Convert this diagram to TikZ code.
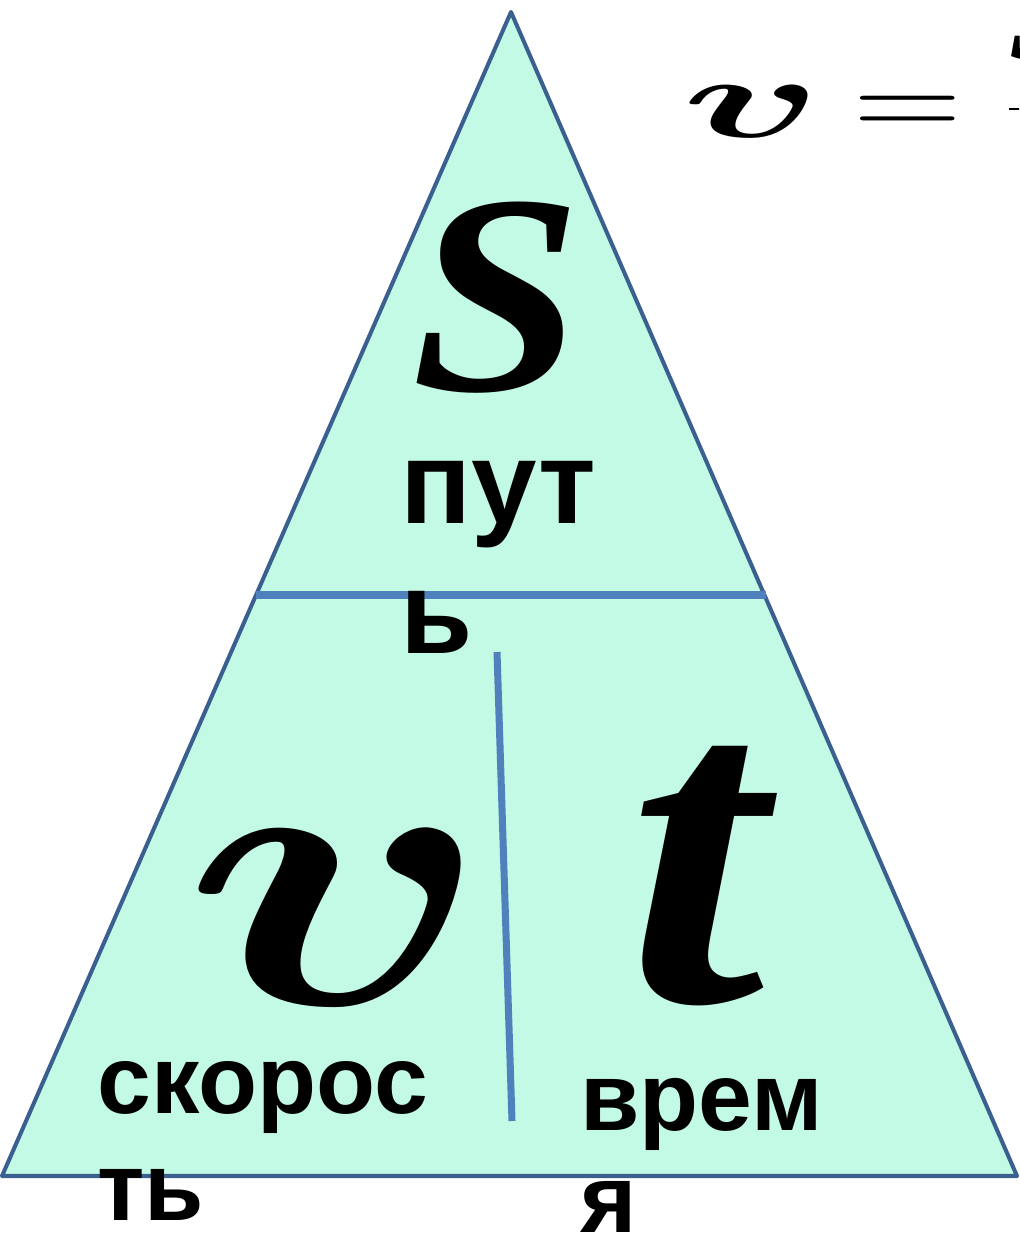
\RequirePackage{fix-cm}
\documentclass[tikz,border=0pt]{standalone}
\usepackage{amsmath}
\usepackage{bm}
\usepackage{fontspec}
\newfontfamily\rusfont{Liberation Sans}
\newfontfamily\letterfont{Liberation Serif}

\definecolor{mint}{HTML}{C2FAE5}
\definecolor{rimblue}{HTML}{3B6090}
\definecolor{splitblue}{HTML}{4F81BD}

\tikzset{
    rim/.style={fill=mint, draw=rimblue, line width=2.3pt, line join=round},
    split/.style={draw=splitblue, line width=4pt},
    bigletter/.style={anchor=base, font=\fontsize{#1}{#1}\selectfont\letterfont\bfseries\itshape},
    caption/.style={anchor=base west, font=\fontsize{#1}{#1}\selectfont\rusfont\bfseries}
}

\begin{document}
\begin{tikzpicture}[x=0.2mm, y=-0.2mm, every node/.style={inner sep=0pt}]

    \useasboundingbox (0,0) rectangle (1019,1239);

    % Triangle
    \coordinate (apex) at (511,12);
    \coordinate (baseL) at (2,1176);
    \coordinate (baseR) at (1017,1176);
    \filldraw[rim] (apex) -- (baseL) -- (baseR) -- cycle;

    % dividers
    \coordinate (midL) at (256,595);
    \coordinate (midR) at (766,595);
    \coordinate (splitT) at (497,652);
    \coordinate (splitB) at (512,1121);
    \draw[split] (midL) -- (midR);
    \draw[split] (splitT) -- (splitB);

    % S
    \node[bigletter=162] (path) at (497,390) {\scalebox{1.08}[1]{S}};
    \node[caption=67] (putA) at (400,523) {пут};
    \node[caption=67] (putB) at (400,653) {ь};

    % v
    \node[anchor=base, font=\fontsize{222}{222}\selectfont] (speed) at (338,1004) {\scalebox{1.32}[1]{$\bm{v}$}};
    \node[caption=55] (speedA) at (97,1113) {скорос};
    \node[caption=55] (speedB) at (97,1220) {ть};

    % t
    \node[bigletter=258] (time) at (696,1001) {\scalebox{1.1}[1]{t}};
    \node[caption=55] (timeA) at (580,1130) {врем};
    \node[caption=55] (timeB) at (580,1232) {я};

    % formula, cut at the edge
    \begin{scope}
        \clip (0,0) rectangle (1019,1239);
        \node[anchor=base west, font=\fontsize{66}{66}\selectfont\letterfont\bfseries\itshape] (formula) at (682,138)
            {\scalebox{2}[1]{$\bm{v}$}\hspace{17.5pt}\scalebox{1.3}[1]{$=$}\hspace{26pt}$\dfrac{\text{S}}{\text{t}}$};
    \end{scope}

\end{tikzpicture}
\end{document}
